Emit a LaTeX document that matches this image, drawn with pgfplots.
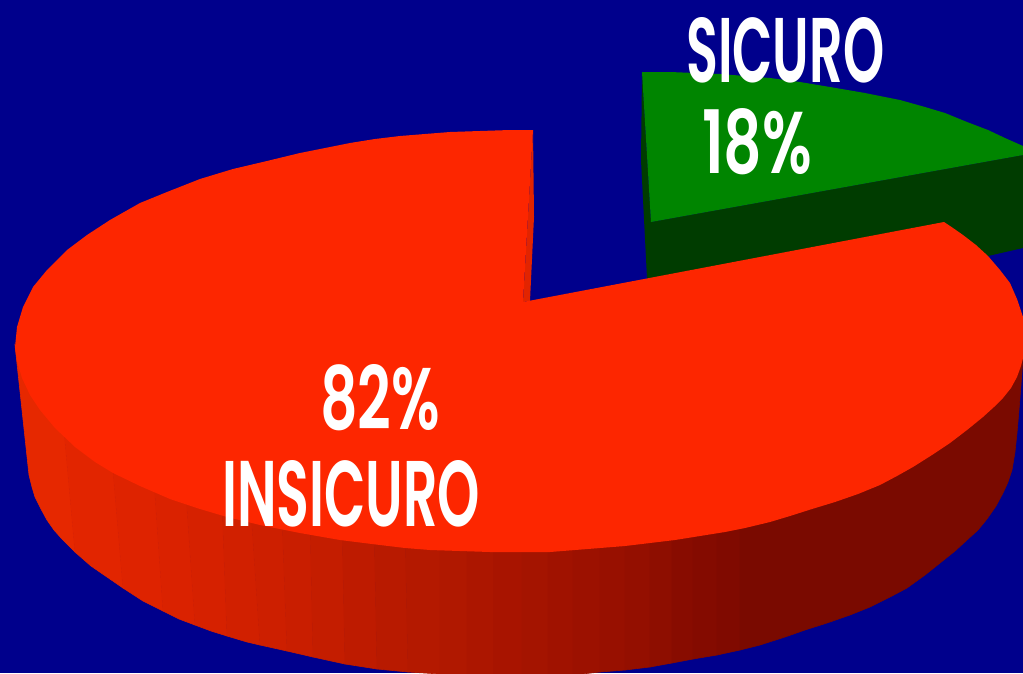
\documentclass[border=0pt]{standalone}
\usepackage{fontspec}
\newfontfamily\labfont{Poppins SemiBold}
\usepackage{graphicx}
\usepackage{pgfplots}
\pgfplotsset{compat=1.18}
\definecolor{bgblue}{RGB}{0,0,140}
\definecolor{redtop}{RGB}{253,38,0}
\definecolor{redin}{RGB}{226,36,0}
\definecolor{greentop}{RGB}{0,133,0}
\definecolor{greenside}{RGB}{0,60,0}
\newcommand{\strip}[4]{\addplot[fill={rgb,255:red,#1;green,#2;blue,#3},draw={rgb,255:red,#1;green,#2;blue,#3},line width=0.6pt] coordinates {#4} --cycle;}
\newcommand{\lab}[5]{\node[anchor=north west,inner sep=0pt,text=white] at (axis cs:#1,#2) {\resizebox{#3pt}{#4pt}{\labfont #5}};}
\begin{document}
\begin{tikzpicture}
\begin{axis}[scale only axis,width=1023pt,height=673pt,axis lines=none,
  xmin=0,xmax=1023,ymin=0,ymax=673,y dir=reverse,clip=true]
 % background
 \addplot[fill=bgblue,draw=none] coordinates {(0,0) (1023,0) (1023,673) (0,673)} --cycle;
 % green slice
 \addplot[fill=greenside,draw=none] coordinates {(642,72) (641,160) (647,278) (800,300) (988,256) (1023,248) (1023,155) (651,222)} --cycle;
 \addplot[fill=greentop,draw=none] coordinates {(642,72) (670,72) (695,73) (720,74) (745,76) (770,78) (800,82) (830,87) (865,93) (900,100)
  (925,107) (945,113) (967,122) (988,130) (1005,138) (1023,146) (1023,155) (651,222)} --cycle;
 % red slice, outer wall band by band
 \strip{230}{40}{0}{(15,345) (22,410) (29,475) (32,487) (35,497) (41,509) (47,520) (54,530) (62,539) (75,552) (64,430)}
 \strip{226}{37}{0}{(64,430) (75,552) (91,566) (107,577) (123,588) (112,458)}
 \strip{222}{35}{0}{(112,458) (123,588) (143,601) (163,611) (154,480)}
 \strip{218}{34}{0}{(154,480) (163,611) (179,619) (195,625) (186,493)}
 \strip{214}{33}{0}{(186,493) (195,625) (211,631) (227,636) (222,502)}
 \strip{209}{32}{0}{(222,502) (227,636) (247,642) (260,645) (251,510)}
 \strip{205}{31}{0}{(251,510) (260,645) (287,651) (282,516)}
 \strip{201}{30}{0}{(282,516) (287,651) (313,657) (310,520)}
 \strip{196}{29}{0}{(310,520) (313,657) (345,664) (342,520)}
 \strip{190}{27}{0}{(342,520) (345,664) (377,669) (374,520)}
 \strip{184}{26}{0}{(374,520) (377,669) (408,672) (405,520)}
 \strip{180}{25}{0}{(405,520) (408,672) (440,674) (440,510)}
 \strip{176}{24}{0}{(440,510) (440,674) (467,676) (467,510)}
 \strip{172}{22}{0}{(467,510) (467,676) (493,677) (493,510)}
 \strip{168}{20}{0}{(493,510) (493,677) (522,677) (522,510)}
 \strip{164}{20}{0}{(522,510) (522,677) (548,676) (548,510)}
 \strip{160}{18}{0}{(548,510) (548,676) (573,675) (573,510)}
 \strip{156}{17}{0}{(573,510) (573,675) (600,672) (600,510)}
 \strip{152}{16}{0}{(600,510) (600,672) (625,670) (625,510)}
 \strip{148}{15}{0}{(625,510) (625,670) (650,667) (650,510)}
 \strip{142}{14}{0}{(650,510) (650,667) (672,663) (672,510)}
 \strip{136}{12}{0}{(672,510) (672,663) (693,659) (693,510)}
 \strip{132}{11}{0}{(693,510) (693,659) (717,655) (717,510)}
 \strip{128}{10}{0}{(717,510) (717,655) (740,650) (740,510)}
 \strip{122}{10}{0}{(740,510) (740,650) (760,645) (785,637) (805,630) (827,623) (850,615) (870,607) (890,597) (907,588) (925,575) (940,563)
  (955,551) (967,540) (978,530) (987,519) (996,506) (1003,493) (1008,482) (1012,470) (1015,452) (1017,433) (1019,410) (1021,385) (1023,358) (1000,300)}
 % inner wall
 \addplot[fill=redin,draw=none] coordinates {(533,130) (534,217) (530,301) (523,302)} --cycle;
 % red top
 \addplot[fill=redtop,draw=none] coordinates {(533,130) (523,302) (944,222) (953,228) (963,235) (976,245) (988,256) (1000,270) (1010,283) (1017,299)
  (1023,317) (1028,330) (1030,340) (1027,350) (1023,358) (1021,366) (1017,377) (1011,388) (1003,398) (994,407) (983,417) (967,430) (950,443) (932,455)
  (913,467) (897,476) (880,485) (858,494) (835,502) (812,509) (790,516) (770,522) (745,528) (725,532) (700,536) (675,540) (650,543) (625,546) (600,548)
  (575,550) (550,552) (520,552) (490,552) (460,551) (430,550) (405,548) (380,545) (340,540) (300,533) (260,525) (227,517) (200,509) (170,499) (140,486)
  (113,473) (95,462) (75,447) (55,428) (40,410) (30,395) (22,378) (17,361) (15,347) (17,327) (23,307) (33,287) (47,270) (67,250) (87,235) (110,220)
  (140,203) (167,192) (200,179) (233,169) (267,161) (300,153) (325,148) (350,143) (375,139) (400,136) (425,134) (450,132) (480,131) (510,130)} --cycle;
 % labels
 \lab{686}{17}{198}{65}{SICURO}
 \lab{702}{108}{110}{65}{18\%}
 \lab{320}{364}{120}{65}{82\%}
 \lab{222}{460}{258}{66}{INSICURO}
\end{axis}
\end{tikzpicture}
\end{document}
